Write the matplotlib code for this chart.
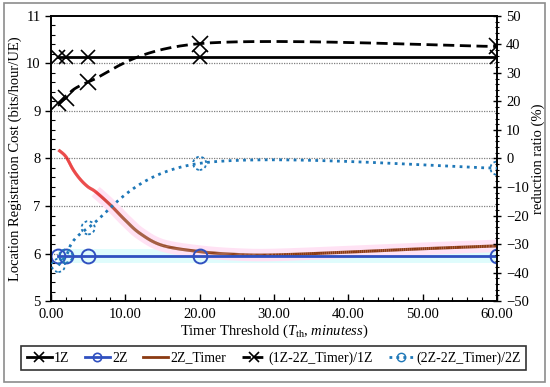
import numpy as np
import matplotlib
matplotlib.use("Agg")
import matplotlib.pyplot as plt
from matplotlib.ticker import MultipleLocator, FormatStrFormatter
from matplotlib.collections import LineCollection
from matplotlib.patches import Rectangle
from matplotlib.lines import Line2D

plt.rcParams["font.family"] = ["Liberation Serif", "DejaVu Serif"]
plt.rcParams["mathtext.fontset"] = "custom"
plt.rcParams["mathtext.rm"] = "Liberation Serif"
plt.rcParams["mathtext.it"] = "Liberation Serif:italic"
plt.rcParams["font.size"] = 10.5

# data
t_marks = [1, 2, 5, 20, 60]
cost_1z = [10.13, 10.13, 10.13, 10.13, 10.13]
cost_2z = [5.95, 5.95, 5.95, 5.95, 5.95]

t_timer = [1, 2, 3, 4, 5, 6, 8, 10, 12, 15, 20, 25, 30, 40, 50, 60]
cost_timer = [8.18, 8.04, 7.76, 7.55, 7.40, 7.30, 7.02, 6.70, 6.42, 6.17, 6.04,
              5.98, 5.97, 6.03, 6.10, 6.16]

ratio_1z = [19.3, 21.2, 26.8, 40.3, 39.3]
ratio_2z = [-37.5, -34.2, -24.3, -1.7, -3.4]


def smooth(x, y, n=40):
    # Bezier smoothing of the kind spreadsheet charts use
    p = np.column_stack([x, y]).astype(float)
    out = [p[0]]
    for i in range(len(p) - 1):
        p0 = p[i - 1] if i > 0 else p[i]
        p3 = p[i + 2] if i + 2 < len(p) else p[i + 1]
        b0, b3 = p[i], p[i + 1]
        b1 = b0 + (b3 - p0) / 6
        b2 = b3 - (p3 - b0) / 6
        s = np.linspace(0, 1, n)[1:, None]
        seg = ((1 - s) ** 3) * b0 + 3 * ((1 - s) ** 2) * s * b1 + 3 * (1 - s) * s ** 2 * b2 + s ** 3 * b3
        out.extend(seg)
    out = np.array(out)
    return out[:, 0], out[:, 1]


fig = plt.figure(figsize=(5.5, 3.87), dpi=100)
fig.patches.append(Rectangle((4 / 550, 5 / 387), 541 / 550, 379 / 387, transform=fig.transFigure,
                             fill=False, edgecolor="#8c8c8c", lw=1.2))
ax = fig.add_axes([0.0927, 0.2222, 0.8109, 0.7365])
ax2 = ax.twinx()

blue = "#3050c0"
dotblue = "#1f78b8"
brown = "#8b3a12"

# glow under 2Z and 2Z_Timer
ax.plot(t_marks, cost_2z, color="#dffcfc", lw=10, solid_capstyle="butt", zorder=1)
xs, ys = smooth(t_timer, cost_timer)
glow = xs >= 6
ax.plot(xs[glow], ys[glow], color="#ffe2f4", lw=9, solid_capstyle="butt", zorder=1)

ax.plot(t_marks, cost_1z, color="black", lw=2, marker="x", ms=10, mew=1.2, zorder=4)
ax.plot(t_marks, cost_2z, color=blue, lw=2, marker="o", ms=10, mfc="none", mew=1.4, zorder=4)

# timer curve goes from red to brown
pts = np.column_stack([xs, ys])
segs = np.stack([pts[:-1], pts[1:]], axis=1)
mix = np.clip((xs[:-1] - 6) / 4, 0, 1)[:, None]
cols = (1 - mix) * np.array([0.9, 0.0, 0.0]) + mix * np.array([0.55, 0.23, 0.07])
ax.add_collection(LineCollection(segs, colors=cols, linewidths=2.2, zorder=3))

ax.set_xlim(0, 60)
ax.set_ylim(5, 11)
ax.xaxis.set_major_locator(MultipleLocator(10))
ax.xaxis.set_minor_locator(MultipleLocator(2))
ax.xaxis.set_major_formatter(FormatStrFormatter("%.2f"))
ax.yaxis.set_major_locator(MultipleLocator(1))
ax.yaxis.set_minor_locator(MultipleLocator(0.2))
ax.tick_params(axis="x", which="major", direction="in", length=5, width=1, pad=5)
ax.tick_params(axis="x", which="minor", direction="in", length=3, width=0.8)
ax.tick_params(axis="y", which="major", direction="out", length=4, width=1)
ax.tick_params(axis="y", which="minor", direction="in", length=3, width=0.8)
for v in [6, 7, 8, 9, 10]:
    ax.axhline(v, color="#808080", lw=0.9, ls=(0, (1, 1)), zorder=0)
ax.set_xlabel("Timer Threshold ($T_{\\mathrm{th}}$, $\\mathit{minutess}$)", labelpad=1)
ax.set_ylabel("Location Registration Cost (bits/hour/UE)", labelpad=3)

rx1, ry1 = smooth(t_marks, ratio_1z)
ax2.plot(rx1, ry1, color="black", lw=2, ls=(0, (4, 2)), zorder=4)
ax2.plot(t_marks, ratio_1z, ls="none", marker="x", ms=11, mew=1.2, color="black", zorder=4)
rx2, ry2 = smooth(t_marks, ratio_2z)
ax2.plot(rx2, ry2, color=dotblue, lw=2, ls=(0, (1, 1.6)), zorder=4)
ax2.scatter(t_marks, ratio_2z, s=90, facecolors="none", edgecolors=dotblue,
            linewidths=1.3, linestyles=(0, (1.5, 1.5)), zorder=4)
ax2.set_ylim(-50, 50)
ax2.yaxis.set_major_locator(MultipleLocator(10))
ax2.yaxis.set_minor_locator(MultipleLocator(2))
ax2.tick_params(axis="y", which="major", direction="inout", length=6, width=1)
ax2.tick_params(axis="y", which="minor", direction="inout", length=3, width=0.8)
ax2.set_ylabel("reduction ratio (%)", labelpad=2)
for a in (ax, ax2):
    for sp in a.spines.values():
        sp.set_linewidth(1.2)

handles = [
    Line2D([], [], color="black", lw=2, marker="x", ms=7, mew=1.2),
    Line2D([], [], color=blue, lw=2, marker="o", ms=6, mfc="none", mew=1.2),
    Line2D([], [], color=brown, lw=2),
    Line2D([], [], color="black", lw=2, ls=(0, (3, 1.5)), marker="x", ms=7, mew=1.2),
    Line2D([], [], color=dotblue, lw=2, ls=(0, (1, 1.5)), marker="o", ms=6, mfc="none", mew=1.0),
]
labels = ["1Z", "2Z", "2Z_Timer", "(1Z-2Z_Timer)/1Z", "(2Z-2Z_Timer)/2Z"]
leg = fig.legend(handles, labels, loc="center", ncol=5, mode="expand",
                 bbox_to_anchor=(0.0255, 0.0388, 0.9436, 0.0724),
                 frameon=True, fancybox=False, edgecolor="black", fontsize=10,
                 handlelength=1.8, handletextpad=0.15, borderpad=0.4)
leg.get_frame().set_linewidth(1.2)

fig.savefig("out.png", dpi=100)
